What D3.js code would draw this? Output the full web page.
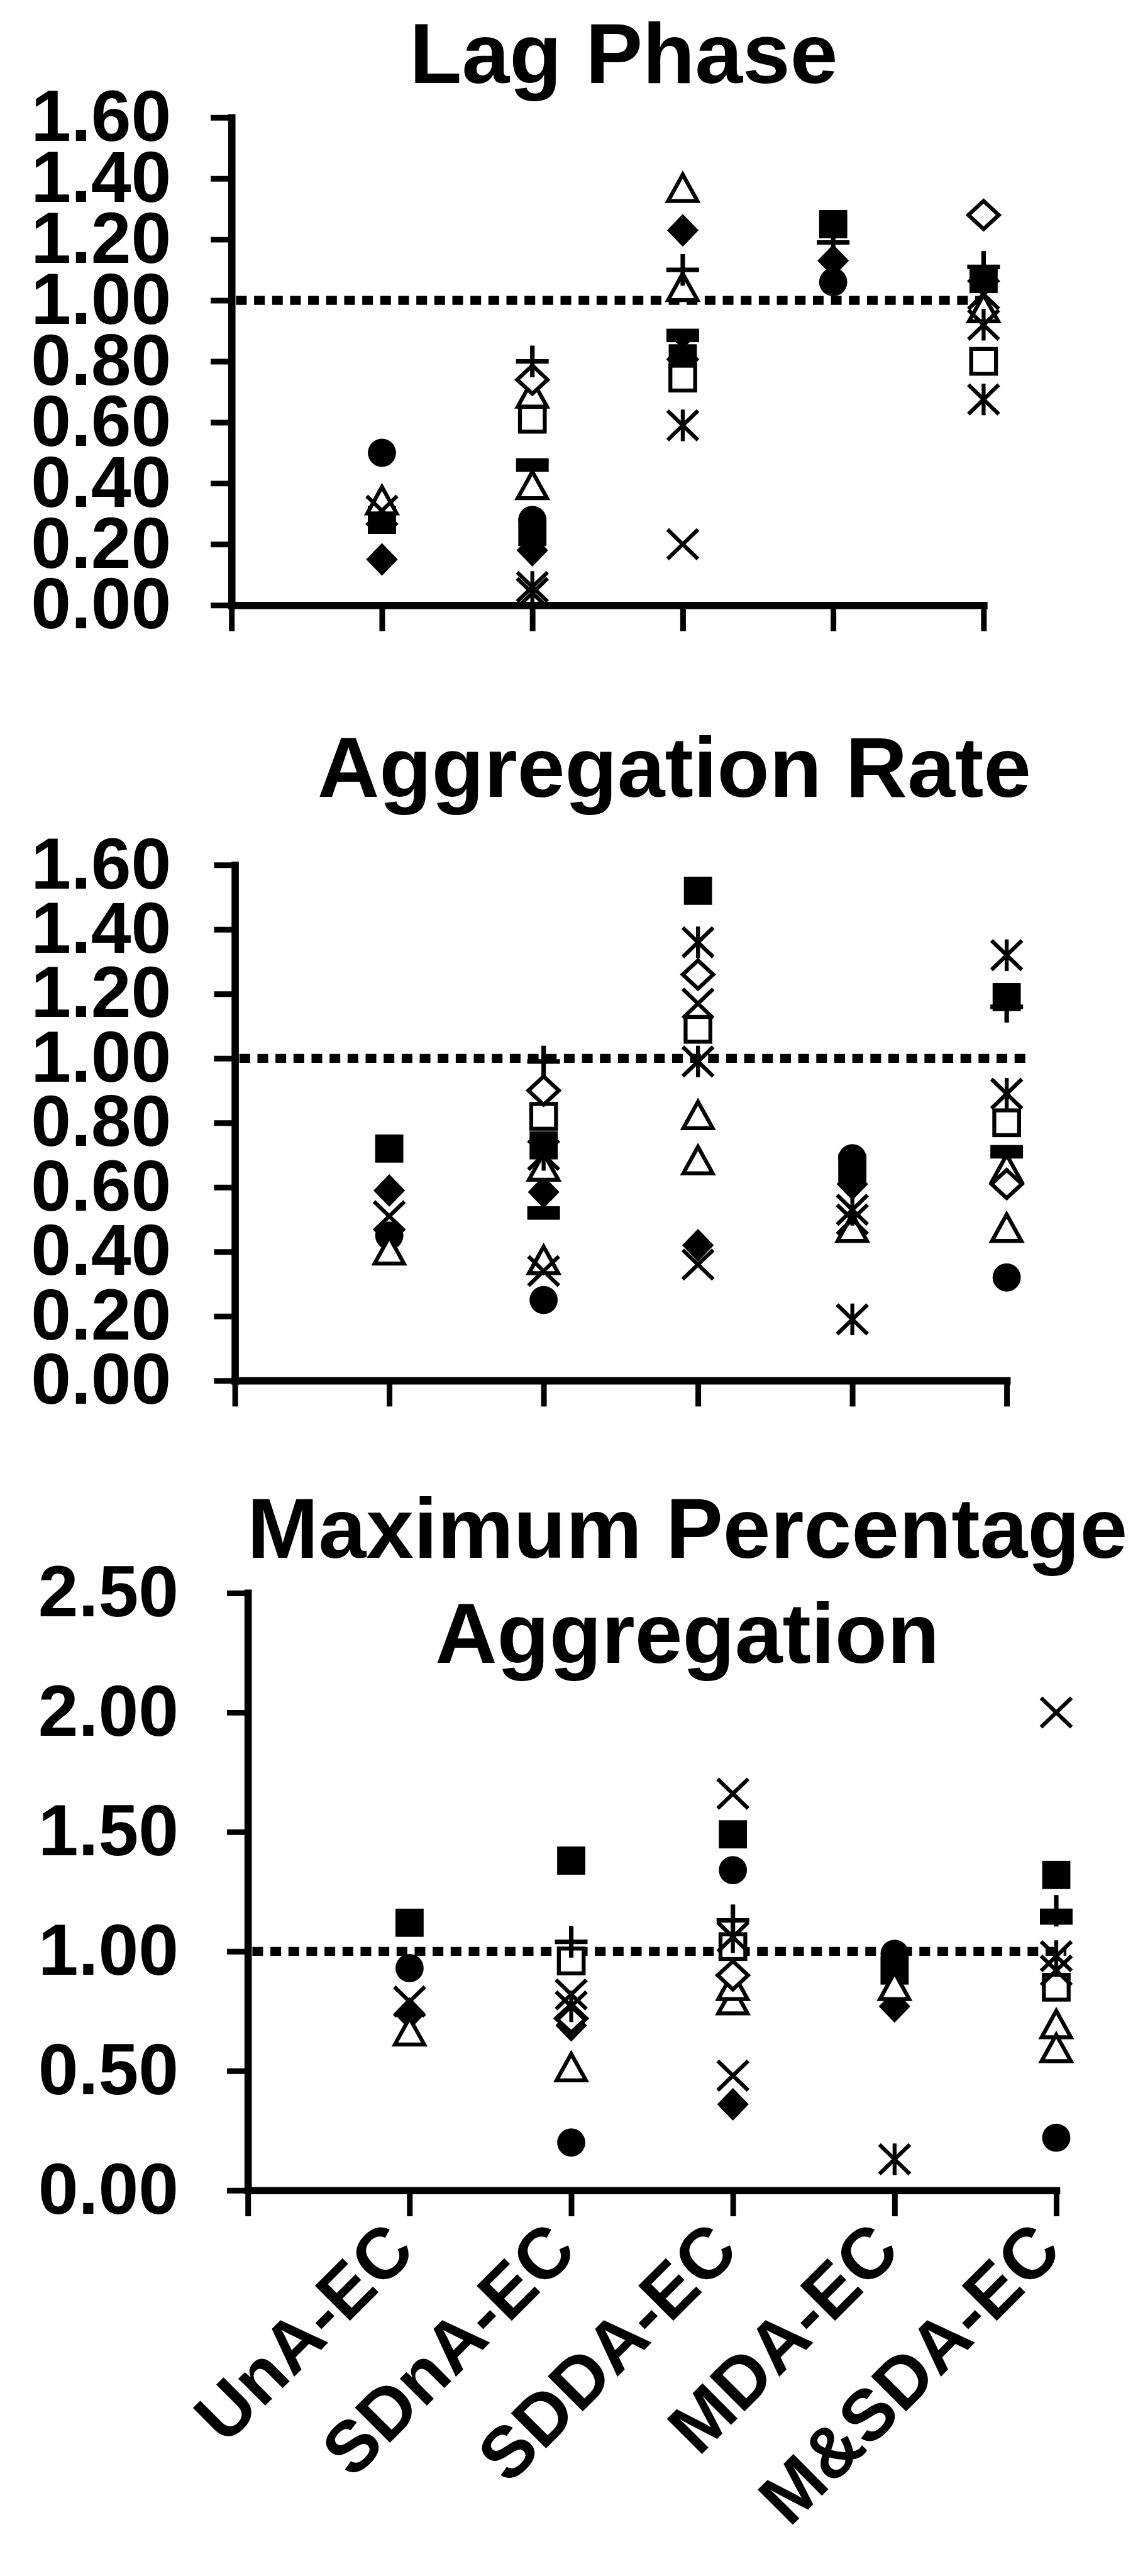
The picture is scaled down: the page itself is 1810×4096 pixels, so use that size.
<!DOCTYPE html>
<html><head><meta charset="utf-8">
<script src="https://cdn.jsdelivr.net/npm/d3@7"></script>
<style>body{margin:0;background:#fff}svg{display:block}</style>
</head><body>
<svg id="c" width="1810" height="4096"></svg>
<script>
// ---------- DATA ----------
const categories = ["UnA-EC", "SDnA-EC", "SDDA-EC", "MDA-EC", "M&SDA-EC"];
// marker shape of each series (row order of the value tables below)
const seriesShapes = ["sqF", "diaF", "cirF", "tri", "tri2", "sqO", "diaO", "x", "x2", "star", "star2", "plus", "dash"];

const lagTicks = [0, 0.2, 0.4, 0.6, 0.8, 1.0, 1.2, 1.4, 1.6];
const rateTicks = [0, 0.2, 0.4, 0.6, 0.8, 1.0, 1.2, 1.4, 1.6];
const maxTicks = [0, 0.5, 1.0, 1.5, 2.0, 2.5];

// Lag Phase
const lagPhaseValues = [
  [0.28, 0.24, 0.81, 1.25, 1.07],   // sqF
  [0.15, 0.18, 1.23, 1.13, null],   // diaF
  [0.50, 0.28, null, 1.06, null],   // cirF
  [0.34, 0.69, 1.04, null, 0.97],   // tri
  [null, 0.39, 1.365, null, null],  // tri2
  [null, 0.61, 0.745, null, 0.80],  // sqO
  [null, 0.74, null, null, 1.28],   // diaO
  [0.31, 0.04, 0.20, null, 1.02],   // x
  [null, null, null, null, null],   // x2
  [null, 0.06, 0.59, null, 0.92],   // star
  [null, null, 0.85, null, 0.675],  // star2
  [null, 0.80, 1.10, 1.19, 1.11],   // plus
  [null, 0.46, 0.885, null, null]   // dash
];
// Aggregation Rate
const aggRateValues = [
  [0.72, 0.73, 1.52, 0.66, 1.19],
  [0.59, 0.585, 0.42, 0.61, null],
  [0.45, 0.25, null, 0.69, 0.32],
  [0.40, 0.66, 0.82, 0.47, 0.655],
  [null, 0.37, 0.68, null, 0.47],
  [null, 0.82, 1.09, null, 0.80],
  [null, 0.90, 1.26, null, 0.61],
  [0.51, 0.34, 1.17, 0.50, null],
  [null, null, 0.36, null, null],
  [null, 0.70, 1.36, 0.53, 1.32],
  [null, null, 0.99, 0.19, 0.89],
  [null, 0.99, null, null, 1.16],
  [null, 0.52, null, null, 0.71]
];
// Maximum Percentage Aggregation
const maxAggValues = [
  [1.12, 1.38, 1.49, 0.92, 1.32],
  [0.74, 0.69, 0.36, 0.77, null],
  [0.93, 0.20, 1.34, 0.99, 0.22],
  [0.66, 0.51, 0.79, 0.85, 0.69],
  [null, null, 0.85, null, 0.59],
  [null, 0.96, 1.02, null, 0.85],
  [null, 0.72, 0.90, null, null],
  [0.79, 0.82, 1.66, null, 2.00],
  [null, null, 0.48, null, 0.92],
  [null, 0.77, 1.06, 0.13, 0.98],
  [null, null, null, null, null],
  [null, 1.04, 1.13, null, 1.17],
  [null, null, null, null, 1.14]
];

// ---------- LAYOUT (reference pixel units, scaled by S) ----------
const S = 0.896;
const FONT = "'Liberation Sans', Arial, Helvetica, sans-serif";
const panels = [
  {title: ["Lag Phase"], tx: 1107, tb: [147], x0: 411, step: 267, y0: 1074, yTop: 208.5, yMax: 1.6,
   ticks: lagTicks, labelRight: 304, dotEnd: 1762, values: lagPhaseValues, xLabels: false},
  {title: ["Aggregation Rate"], tx: 1197, tb: [1414], x0: 417, step: 274, y0: 2450, yTop: 1535, yMax: 1.6,
   ticks: rateTicks, labelRight: 304, dotEnd: 1828, values: aggRateValues, xLabels: false},
  {title: ["Maximum Percentage", "Aggregation"], tx: 1220, tb: [2764, 2951], x0: 440, step: 287, y0: 3887, yTop: 2827, yMax: 2.5,
   ticks: maxTicks, labelRight: 317, dotEnd: 1893, values: maxAggValues, xLabels: true}
];

const svg = d3.select("#c");
svg.append("rect").attr("width", 1810).attr("height", 4096).attr("fill", "#fff");
const root = svg.append("g").attr("transform", `scale(${S})`);

function drawMarker(g, shape, cx, cy) {
  const m = g.append("g").attr("transform", `translate(${cx},${cy})`);
  const sw = 7;
  switch (shape) {
    case "sqF": m.append("rect").attr("x", -25).attr("y", -25).attr("width", 50).attr("height", 50).attr("fill", "#000"); break;
    case "diaF": m.append("path").attr("d", "M0,-29L28,0L0,29L-28,0Z").attr("fill", "#000"); break;
    case "cirF": m.append("circle").attr("r", 25).attr("fill", "#000"); break;
    case "tri": case "tri2":
      m.append("path").attr("d", "M0,-26L26,21L-26,21Z").attr("fill", "#fff").attr("stroke", "#000").attr("stroke-width", sw).attr("stroke-linejoin", "miter"); break;
    case "sqO": m.append("rect").attr("x", -22).attr("y", -22).attr("width", 44).attr("height", 44).attr("fill", "#fff").attr("stroke", "#000").attr("stroke-width", sw); break;
    case "diaO": m.append("path").attr("d", "M0,-25L27,0L0,25L-27,0Z").attr("fill", "#fff").attr("stroke", "#000").attr("stroke-width", sw); break;
    case "x": case "x2":
      m.append("path").attr("d", "M-27,-26L27,26M27,-26L-27,26").attr("stroke", "#000").attr("stroke-width", sw).attr("fill", "none"); break;
    case "star": case "star2":
      m.append("path").attr("d", "M-27,-26L27,26M27,-26L-27,26M0,-28L0,28").attr("stroke", "#000").attr("stroke-width", sw).attr("fill", "none"); break;
    case "plus":
      m.append("path").attr("d", "M-29,0L29,0M0,-28L0,28").attr("stroke", "#000").attr("stroke-width", 8).attr("fill", "none"); break;
    case "dash": m.append("rect").attr("x", -29).attr("y", -12).attr("width", 58).attr("height", 24).attr("fill", "#000"); break;
  }
}

panels.forEach(p => {
  const g = root.append("g");
  const x = d3.scaleLinear().domain([0, 5]).range([p.x0, p.x0 + 5 * p.step]);
  const y = d3.scaleLinear().domain([0, p.yMax]).range([p.y0, p.yTop]);

  // title
  p.title.forEach((t, i) => {
    g.append("text").attr("x", p.tx).attr("y", p.tb[i]).attr("text-anchor", "middle")
      .attr("font-family", FONT).attr("font-weight", "bold").attr("font-size", 152).text(t);
  });

  // y axis
  const tickLen = 37;
  const yAxis = d3.axisLeft(y).tickValues(p.ticks).tickSize(tickLen).tickSizeOuter(0)
    .tickPadding(p.x0 - p.labelRight - tickLen).tickFormat(d3.format(".2f"));
  const ya = g.append("g").attr("transform", `translate(${p.x0},0)`).call(yAxis);
  ya.select(".domain").attr("stroke", "#000").attr("stroke-width", 13).attr("stroke-linecap", "square");
  ya.selectAll(".tick line").attr("stroke", "#000").attr("stroke-width", 10);
  ya.selectAll(".tick text").attr("font-family", FONT).attr("font-weight", "bold").attr("font-size", 128).attr("fill", "#000");

  // x axis
  const xAxis = d3.axisBottom(x).tickValues([0, 1, 2, 3, 4, 5]).tickSize(46).tickSizeOuter(0).tickFormat("");
  const xa = g.append("g").attr("transform", `translate(0,${p.y0})`).call(xAxis);
  xa.select(".domain").attr("stroke", "#000").attr("stroke-width", 13).attr("stroke-linecap", "square");
  xa.selectAll(".tick line").attr("stroke", "#000").attr("stroke-width", 10);

  // reference line at 1.00
  g.append("line").attr("x1", p.x0 + 8).attr("x2", p.dotEnd).attr("y1", y(1)).attr("y2", y(1))
    .attr("stroke", "#000").attr("stroke-width", 16).attr("stroke-dasharray", "19,13");

  // markers
  p.values.forEach((row, si) => {
    row.forEach((v, ci) => {
      if (v == null) return;
      drawMarker(g, seriesShapes[si], x(ci + 1), y(v));
    });
  });

  // category labels
  if (p.xLabels) {
    categories.forEach((c, i) => {
      const ax = x(i + 1) + 14, ay = p.y0 + 112;
      g.append("text").attr("transform", `translate(${ax},${ay}) rotate(-45)`)
        .attr("text-anchor", "end").attr("font-family", FONT).attr("font-weight", "bold")
        .attr("font-size", 128).text(c);
    });
  }
});
</script>
</body></html>
